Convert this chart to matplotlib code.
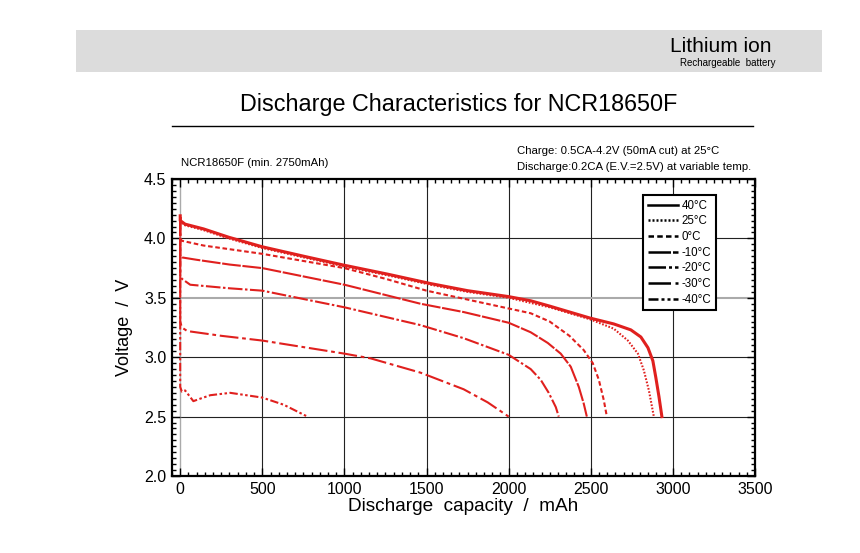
import matplotlib.pyplot as plt
from matplotlib.lines import Line2D
from matplotlib.patches import Rectangle
from matplotlib.ticker import MultipleLocator

plt.rcParams['font.family'] = ['Liberation Sans', 'DejaVu Sans']

# curve data
temps = ['40°C', '25°C', '0°C', '-10°C', '-20°C', '-30°C', '-40°C']

cap_40 = [0, 0, 30, 142, 295, 498, 752, 996, 1260, 1524, 1750, 2000, 2134, 2250, 2494, 2640, 2744, 2805, 2848, 2878, 2896, 2915, 2933]
volt_40 = [4.19, 4.15, 4.12, 4.08, 4.01, 3.93, 3.85, 3.775, 3.70, 3.62, 3.56, 3.51, 3.475, 3.43, 3.33, 3.28, 3.23, 3.17, 3.08, 2.97, 2.83, 2.67, 2.50]

cap_25 = [0, 0, 30, 142, 295, 498, 752, 996, 1260, 1524, 1750, 2000, 2250, 2494, 2640, 2726, 2787, 2823, 2854, 2884]
volt_25 = [4.18, 4.14, 4.11, 4.07, 4.00, 3.92, 3.84, 3.765, 3.69, 3.61, 3.55, 3.50, 3.42, 3.32, 3.24, 3.14, 3.03, 2.89, 2.72, 2.50]

cap_0 = [0, 0, 10, 142, 500, 1000, 1250, 1500, 2000, 2134, 2250, 2370, 2457, 2512, 2549, 2579, 2598]
volt_0 = [4.18, 4.00, 3.98, 3.94, 3.87, 3.75, 3.66, 3.56, 3.41, 3.37, 3.30, 3.18, 3.06, 2.95, 2.81, 2.64, 2.50]

cap_m10 = [0, 0, 10, 100, 300, 500, 1000, 1463, 1726, 2000, 2134, 2238, 2317, 2378, 2427, 2457, 2476]
volt_m10 = [4.18, 3.86, 3.84, 3.82, 3.78, 3.75, 3.61, 3.45, 3.38, 3.29, 3.21, 3.12, 3.03, 2.92, 2.75, 2.61, 2.50]

cap_m20 = [0, 0, 10, 61, 300, 500, 1000, 1463, 1726, 2000, 2134, 2195, 2244, 2287, 2305]
volt_m20 = [4.18, 3.68, 3.66, 3.61, 3.58, 3.56, 3.42, 3.27, 3.16, 3.02, 2.90, 2.81, 2.70, 2.58, 2.50]

cap_m30 = [0, 0, 10, 43, 250, 500, 1000, 1160, 1463, 1726, 1872, 2000]
volt_m30 = [4.18, 3.30, 3.25, 3.22, 3.18, 3.14, 3.03, 2.99, 2.87, 2.73, 2.62, 2.50]

cap_m40 = [0, 0, 10, 30, 80, 120, 183, 305, 500, 630, 775]
volt_m40 = [4.18, 2.75, 2.71, 2.72, 2.63, 2.65, 2.68, 2.70, 2.66, 2.60, 2.50]

caps = [cap_40, cap_25, cap_0, cap_m10, cap_m20, cap_m30, cap_m40]
volts = [volt_40, volt_25, volt_0, volt_m10, volt_m20, volt_m30, volt_m40]
styles = ['-', (0, (0.8, 0.8)), (0, (2.2, 1.3)), (0, (9, 0.8)), (0, (7, 1.2, 1.2, 1.2)),
          (0, (9, 1.8, 1.8, 1.8)), (0, (4, 1.2, 1.2, 1.2, 1.2, 1.2))]
widths = [2.2, 1.5, 1.5, 1.5, 1.5, 1.5, 1.5]
red = '#e0201e'

fig = plt.figure(figsize=(8.6, 5.53), dpi=100)

# header band
fig.patches.append(Rectangle((76 / 860, 1 - 72 / 553), 746 / 860, 42 / 553,
                             transform=fig.transFigure, facecolor='#dcdcdc',
                             edgecolor='none', zorder=0))
fig.text(772 / 860, 1 - 47 / 553, 'Lithium ion', ha='right', va='center', fontsize=15)
fig.text(775 / 860, 1 - 63 / 553, 'Rechargeable  battery', ha='right', va='center', fontsize=7)

fig.text(459 / 860, 1 - 104 / 553, 'Discharge Characteristics for NCR18650F',
         ha='center', va='center', fontsize=16.8)
fig.add_artist(Line2D([172 / 860, 753 / 860], [1 - 126 / 553, 1 - 126 / 553],
                      transform=fig.transFigure, color='black', lw=1))

fig.text(181 / 860, 1 - 163 / 553, 'NCR18650F (min. 2750mAh)', ha='left', va='center', fontsize=8.2)
fig.text(517 / 860, 1 - 151 / 553, 'Charge: 0.5CA-4.2V (50mA cut) at 25°C', ha='left', va='center', fontsize=8.2)
fig.text(517 / 860, 1 - 167 / 553, 'Discharge:0.2CA (E.V.=2.5V) at variable temp.', ha='left', va='center', fontsize=8.2)

ax = fig.add_axes([172 / 860, (553 - 476) / 553, 583 / 860, 297 / 553])

for c, v, ls, lw in zip(caps, volts, styles, widths):
    ax.plot(c, v, color=red, linestyle=ls, lw=lw, zorder=3, solid_joinstyle='round')

ax.set_xlim(-50, 3500)
ax.set_ylim(2.0, 4.5)
ax.xaxis.set_major_locator(MultipleLocator(500))
ax.xaxis.set_minor_locator(MultipleLocator(50))
ax.yaxis.set_major_locator(MultipleLocator(0.5))
ax.yaxis.set_minor_locator(MultipleLocator(0.05))
ax.yaxis.set_major_formatter(lambda y, pos: f'{y:.1f}')
ax.tick_params(which='both', direction='in', top=True, right=True, labelsize=11.5, width=1)
ax.tick_params(which='major', length=6, pad=4)
ax.tick_params(which='minor', length=3)
for s in ax.spines.values():
    s.set_linewidth(1.6)

for gx in range(500, 3500, 500):
    ax.axvline(gx, color='#222222', lw=0.8, zorder=1)
for gy in [2.5, 3.0, 4.0]:
    ax.axhline(gy, color='#222222', lw=0.8, zorder=1)
ax.axvline(0, color='#aaaaaa', lw=1.0, zorder=1)
ax.axhline(3.5, color='#aaaaaa', lw=1.5, zorder=1)

ax.set_xlabel('Discharge  capacity  /  mAh', fontsize=13.7, labelpad=1)
ax.set_ylabel('Voltage  /  V', fontsize=13, labelpad=8)

handles = [Line2D([], [], color='black', linestyle=ls, lw=1.8) for ls in styles]
leg = ax.legend(handles, temps, loc='upper left', bbox_to_anchor=(0.808, 0.946),
                borderaxespad=0, fontsize=8.3, handlelength=2.6, handletextpad=0.35,
                labelspacing=0.32, borderpad=0.4, fancybox=False, framealpha=1,
                edgecolor='black', markerfirst=True)
leg.get_frame().set_linewidth(1.5)
leg.set_zorder(5)

fig.savefig('out.png', dpi=100)
